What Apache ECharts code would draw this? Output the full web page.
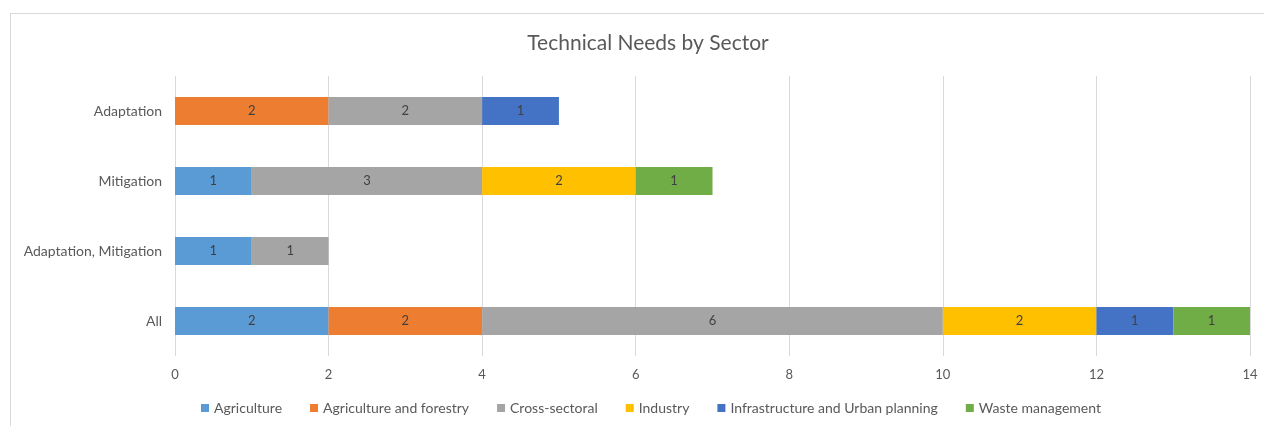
<!DOCTYPE html>
<html>
<head>
<meta charset="utf-8">
<title>Technical Needs by Sector</title>
<script src="https://cdn.jsdelivr.net/npm/echarts@6/dist/echarts.min.js"></script>
<style>
    html, body { margin: 0; padding: 0; background: #fff; }
    #frame {
        position: absolute; left: 10px; top: 13px; width: 1260px; height: 420px;
        border-top: 1px solid #d9d9d9; border-left: 1px solid #d9d9d9;
    }
    #main { position: absolute; left: 0; top: 0; width: 1264px; height: 426px; }
</style>
</head>
<body>
<div id="frame"></div>
<div id="main"></div>
<script>
// categories, bottom to top
var categories = ['All', 'Adaptation, Mitigation', 'Mitigation', 'Adaptation'];
var sectors = ['Agriculture', 'Agriculture and forestry', 'Cross-sectoral', 'Industry',
    'Infrastructure and Urban planning', 'Waste management'];
var agriculture    = [2, 1, 1, null];
var agriForestry   = [2, null, null, 2];
var crossSectoral  = [6, 1, 3, 2];
var industry       = [2, null, 2, null];
var infrastructure = [1, null, null, 1];
var waste          = [1, null, 1, null];
var xTicks = [0, 2, 4, 6, 8, 10, 12, 14];

(function () {
    var colors = ['#5B9BD5', '#ED7D31', '#A5A5A5', '#FFC000', '#4472C4', '#70AD47'];
    var values = [agriculture, agriForestry, crossSectoral, industry, infrastructure, waste];
    var font = 'Lato, "Open Sans", sans-serif';

    var series = [];
    for (var i = 0; i < sectors.length; i++) {
        series.push({
            name: sectors[i],
            type: 'bar',
            stack: 'total',
            barWidth: 28,
            data: values[i],
            label: {
                show: true,
                position: 'inside',
                color: '#404040',
                fontSize: 13,
                fontFamily: font
            }
        });
    }

    var chart = echarts.init(document.getElementById('main'));
    var option = {
        color: colors,
        animation: false,
        title: {
            text: 'Technical Needs by Sector',
            left: 643,
            textAlign: 'center',
            top: 28,
            textStyle: {
                color: '#595959',
                fontSize: 21,
                fontWeight: 'normal',
                fontFamily: font
            }
        },
        legend: {
            bottom: 6,
            left: 196,
            itemWidth: 8,
            itemHeight: 8,
            itemGap: 28,
            icon: 'rect',
            textStyle: { color: '#595959', fontSize: 14, fontFamily: font },
            data: sectors
        },
        grid: {
            left: 175,
            right: 14,
            top: 76,
            bottom: 70,
            containLabel: false
        },
        xAxis: {
            type: 'value',
            min: xTicks[0],
            max: xTicks[xTicks.length - 1],
            interval: 2,
            axisLine: { show: false },
            axisTick: { show: false },
            axisLabel: { color: '#595959', fontSize: 13, fontFamily: font, margin: 12 },
            splitLine: { lineStyle: { color: '#d9d9d9' } }
        },
        yAxis: {
            type: 'category',
            data: categories,
            axisLine: { show: false },
            axisTick: { show: false },
            axisLabel: { color: '#595959', fontSize: 14, fontFamily: font, margin: 13 }
        },
        series: series
    };
    chart.setOption(option);
})();
</script>
</body>
</html>
